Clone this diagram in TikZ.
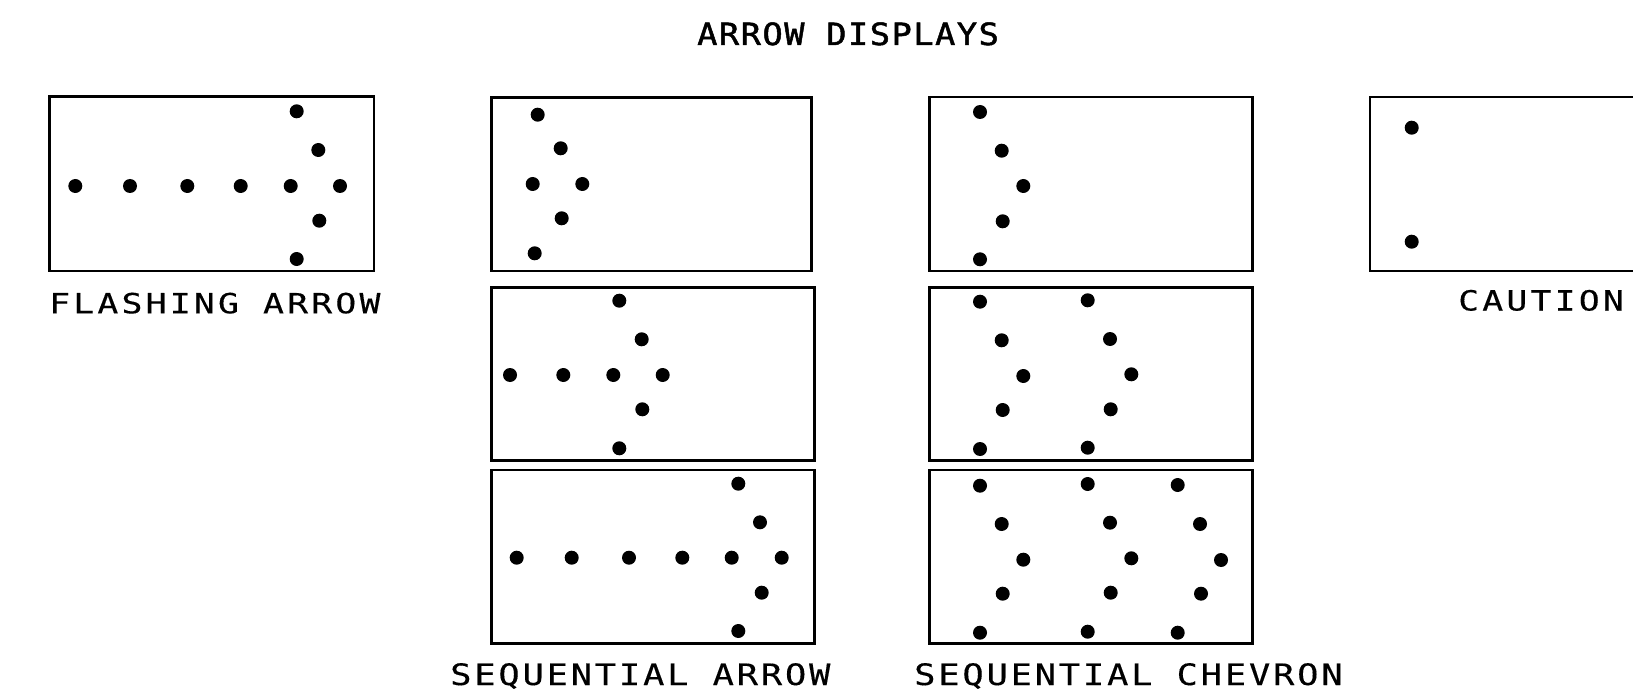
\documentclass[tikz,border=0pt]{standalone}
\usepackage{fontspec}
\newfontfamily\labelfont[FakeStretch=1.25,LetterSpace=11.5,FakeBold=0.3]{DejaVu Sans Mono}
\newfontfamily\lowlabelfont[FakeStretch=1.2,LetterSpace=9.5,FakeBold=0.3]{DejaVu Sans Mono}
\newfontfamily\titlefont[FakeStretch=1.1,LetterSpace=4.9,FakeBold=1.6]{DejaVu Sans Mono}
\begin{document}
\begin{tikzpicture}[x=1pt,y=-1pt,
  panel/.style={line width=2.6pt},
  lamp/.style={fill=black},
  lbl/.style={anchor=base west, inner sep=0pt, font=\labelfont\fontsize{27.8}{30}\selectfont},
  lowlbl/.style={anchor=base west, inner sep=0pt, font=\lowlabelfont\fontsize{29.5}{32}\selectfont},
  ttl/.style={anchor=base west, inner sep=0pt, font=\titlefont\fontsize{30.6}{33}\selectfont}]
\useasboundingbox (0,0) rectangle (1633,695);
\clip (0,0) rectangle (1633,695);

% title
\node[ttl] (title) at (697,45) {ARROW DISPLAYS};

% flashing arrow
\draw[panel] (49.3,96.7) rectangle (374,271);
\foreach \x/\y in {75.3/186,130/186,187.3/186,240.7/186,290.7/186,340/186,296.7/111.3,318.3/150,319.3/220.7,296.7/259}
  \fill[lamp] (\x,\y) circle[radius=7];
\node[lbl] (flash) at (49,313.3) {FLASHING ARROW};

% sequential arrow
\draw[panel] (491.7,97.3) rectangle (811.7,271);
\foreach \x/\y in {537.7/114.7,560.7/148.3,532.7/184,582.3/184,561.7/218.3,534.7/253.3}
  \fill[lamp] (\x,\y) circle[radius=7];
\draw[panel] (491.7,287.3) rectangle (814.3,460.7);
\foreach \x/\y in {619.3/300.7,641.7/339.3,510/375,563.3/375,613.3/375,662.7/375,642.3/409.3,619.3/448.3}
  \fill[lamp] (\x,\y) circle[radius=7];
\draw[panel] (491.7,470) rectangle (814.3,643.3);
\foreach \x/\y in {738.3/483.7,760/522.3,516.7/557.7,571.7/557.7,629/557.7,682.3/557.7,731.7/557.7,781.7/557.7,761.7/592.7,738.3/631}
  \fill[lamp] (\x,\y) circle[radius=7];
\node[lowlbl] (seqarrow) at (450,685) {SEQUENTIAL ARROW};

% sequential chevron
\draw[panel] (929.3,97) rectangle (1252.7,271);
\foreach \x/\y in {980/112,1001.7/150.7,1023.3/186,1002.7/221.3,980/259.3}
  \fill[lamp] (\x,\y) circle[radius=7];
\draw[panel] (929.3,287.3) rectangle (1252.7,460.7);
\foreach \x/\y in {980/301.7,1001.7/340.3,1023.3/376,1002.7/410,980/449,1087.7/300.3,1110/339,1131.3/374.3,1110.7/409.3,1087.7/447.7}
  \fill[lamp] (\x,\y) circle[radius=7];
\draw[panel] (929.3,470) rectangle (1252.7,643.3);
\foreach \x/\y in {980/485.7,1001.7/524,1023.3/559.7,1002.7/593.7,980/632.7,1087.7/484,1110/522.7,1131.3/558.3,1110.7/592.7,1087.7/631.7,1177.7/485,1200/524,1221/560,1201/593.7,1177.7/632.7}
  \fill[lamp] (\x,\y) circle[radius=7];
\node[lowlbl] (seqchev) at (914,685) {SEQUENTIAL CHEVRON};

% caution
\draw[panel] (1370,97) rectangle (1700,271);
\foreach \x/\y in {1411.7/127.7,1411.7/241.7}
  \fill[lamp] (\x,\y) circle[radius=7];
\node[lbl] (caution) at (1458,310.5) {CAUTION};
\end{tikzpicture}
\end{document}
